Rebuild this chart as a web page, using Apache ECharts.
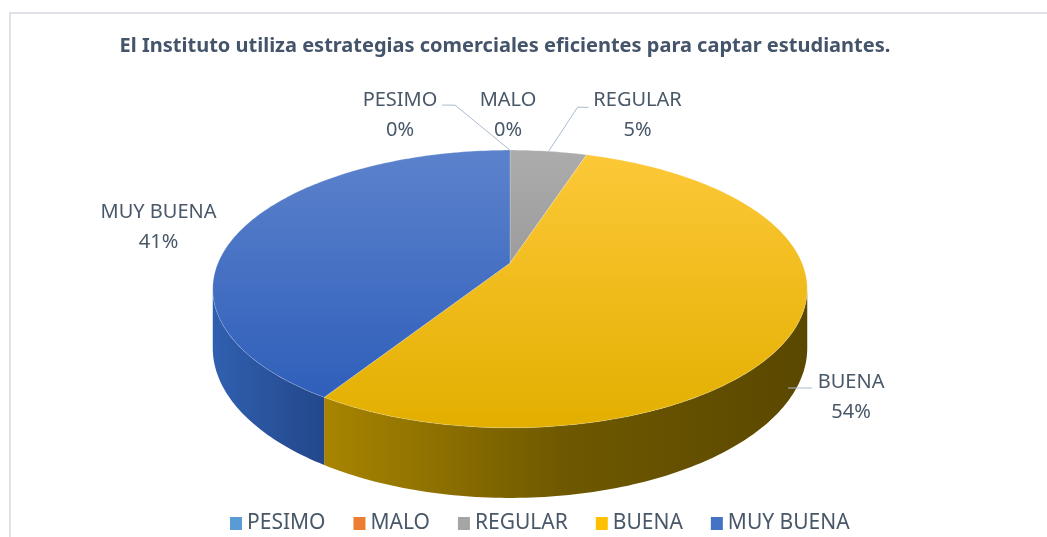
<!DOCTYPE html>
<html>
<head>
<meta charset="utf-8">
<script src="https://cdn.jsdelivr.net/npm/echarts@6/dist/echarts.min.js"></script>
<style>
    html, body { margin: 0; padding: 0; background: #fff; }
    #grafico { width: 1047px; height: 537px; }
</style>
</head>
<body>
<div id="grafico"></div>
<script>
    // datos
    const categorias = ['PESIMO', 'MALO', 'REGULAR', 'BUENA', 'MUY BUENA'];
    const valores = [0, 0, 5, 54, 41];
    const colores = ['#5B9BD5', '#ED7D31', '#A5A5A5', '#FFC000', '#4472C4'];

    // degradados de la cara superior y del lateral (estilo Excel 3D)
    const carasTop = [
        ['#6AA6DC', '#4E8CC8'],
        ['#F08A44', '#D96A20'],
        ['#ACACAC', '#9C9C9C'],
        ['#FDC837', '#E2AF00'],
        ['#5C82CC', '#2F5FBA']
    ];
    const carasLado = [
        ['#3F7BB3', '#2C5C8C'],
        ['#B85A1C', '#8A4310'],
        ['#7E7E7E', '#5E5E5E'],
        ['#A88500', '#6E5800', '#5A4800'],
        ['#3060B0', '#23478A']
    ];

    // posición de las etiquetas respecto al borde de su porción
    const etiquetas = [
        {dx: -110, dy: -35, linea: [[0, 0], [-55, -45], [-68, -45]]},
        {dx: -2, dy: -35, linea: null},
        {dx: 89, dy: -36, linea: [[0, 0], [29, -44], [40, -44]]},
        {dx: 54, dy: 72, linea: [[-9, 63], [15, 63]]},
        {dx: -85, dy: 0, linea: null}
    ];

    const total = valores.reduce((a, b) => a + b, 0);
    const inicios = [];
    let acum = 0;
    valores.forEach(v => { inicios.push(acum); acum += v; });

    // elipse en perspectiva
    const geo = {cx: 510, cy: 263, A: 292, B: 134, k: 0.187, h: 57};
    const tL = Math.acos(-geo.k);
    const tR = 2 * Math.PI - tL;

    function proj(t, abajo) {
        const u = Math.sin(t), v = Math.cos(t), d = 1 + geo.k * v;
        return [geo.cx + geo.A * u / d, geo.cy - geo.B * v / d + (abajo ? geo.h / d : 0)];
    }
    function arco(t1, t2, abajo) {
        const n = Math.max(2, Math.ceil((t2 - t1) / (Math.PI / 180)));
        const pts = [];
        for (let i = 0; i <= n; i++) pts.push(proj(t1 + (t2 - t1) * i / n, abajo));
        return pts;
    }
    function angulos(i) {
        const t1 = inicios[i] / total * 2 * Math.PI;
        const t2 = (inicios[i] + valores[i]) / total * 2 * Math.PI;
        return [t1, t2];
    }
    function degradado(cols, horizontal) {
        const stops = cols.map((c, j) => ({offset: j / (cols.length - 1), color: c}));
        return horizontal
            ? {type: 'linear', x: 0, y: 0, x2: 1, y2: 0, colorStops: stops}
            : {type: 'linear', x: 0, y: 0, x2: 0, y2: 1, colorStops: stops};
    }

    let myChart = echarts.init(document.getElementById('grafico'));
    myChart.setOption({
        animation: false,
        title: {
            text: 'El Instituto utiliza estrategias comerciales eficientes para captar estudiantes.',
            left: 500,
            top: 31,
            textAlign: 'center',
            textStyle: {
                fontFamily: 'Noto Sans',
                fontSize: 20,
                fontWeight: 'bold',
                color: '#44546A'
            }
        },
        legend: {
            data: categorias,
            left: 225,
            top: 508,
            icon: 'rect',
            itemWidth: 12,
            itemHeight: 13,
            itemGap: 28,
            selectedMode: false,
            textStyle: {
                fontFamily: 'Noto Sans',
                fontSize: 21,
                color: '#495868'
            }
        },
        graphic: [
            {
                type: 'polyline',
                silent: true,
                shape: {points: [[10, 537], [10, 13], [1047, 13]]},
                style: {stroke: '#DEE2E8', lineWidth: 2, fill: null}
            }
        ],
        series: [
            {
                // solo para la leyenda
                name: 'leyenda',
                type: 'pie',
                radius: 0,
                center: [-50, -50],
                silent: true,
                label: {show: false},
                labelLine: {show: false},
                data: categorias.map((c, i) => ({name: c, value: valores[i], itemStyle: {color: colores[i]}}))
            },
            {
                name: 'lados',
                type: 'custom',
                coordinateSystem: 'none',
                z: 1,
                silent: true,
                data: valores,
                renderItem: function (params, api) {
                    const i = params.dataIndex;
                    if (!valores[i]) return {type: 'group', children: []};
                    const [t1, t2] = angulos(i);
                    const a = Math.max(t1, tL), b = Math.min(t2, tR);
                    if (a >= b) return {type: 'group', children: []};
                    const pts = arco(a, b, false).concat(arco(a, b, true).reverse());
                    return {
                        type: 'polygon',
                        shape: {points: pts},
                        style: {fill: degradado(carasLado[i], true), stroke: null}
                    };
                }
            },
            {
                name: 'caras',
                type: 'custom',
                coordinateSystem: 'none',
                z: 2,
                silent: true,
                data: valores,
                renderItem: function (params, api) {
                    const i = params.dataIndex;
                    const [t1, t2] = angulos(i);
                    const hijos = [];
                    if (valores[i]) {
                        const pts = [[geo.cx, geo.cy]].concat(arco(t1, t2, false));
                        hijos.push({
                            type: 'polygon',
                            shape: {points: pts},
                            style: {fill: degradado(carasTop[i], false), stroke: 'rgba(255,255,255,0.35)', lineWidth: 0.6}
                        });
                    }
                    const ancla = proj((t1 + t2) / 2, false);
                    const et = etiquetas[i];
                    if (et.linea) {
                        hijos.push({
                            type: 'polyline',
                            z2: 5,
                            shape: {points: et.linea.map(p => [ancla[0] + p[0], ancla[1] + p[1]])},
                            style: {stroke: '#A9BBCE', lineWidth: 1, fill: null}
                        });
                    }
                    hijos.push({
                        type: 'text',
                        z2: 6,
                        style: {
                            x: ancla[0] + et.dx,
                            y: ancla[1] + et.dy,
                            text: categorias[i] + '\n' + Math.round(valores[i] / total * 100) + '%',
                            fill: '#495868',
                            fontFamily: 'Noto Sans',
                            fontSize: 20,
                            lineHeight: 30,
                            align: 'center',
                            verticalAlign: 'middle'
                        }
                    });
                    return {type: 'group', children: hijos};
                }
            }
        ]
    });
</script>
</body>
</html>
